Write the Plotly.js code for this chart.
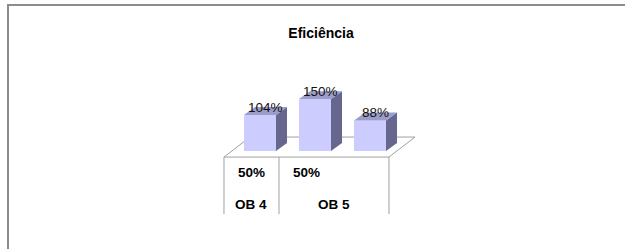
<!DOCTYPE html>
<html>
<head>
<meta charset="utf-8">
<script src="https://cdn.plot.ly/plotly-3.0.1.min.js"></script>
<style>
  html, body { margin: 0; padding: 0; background: #fff; overflow: hidden; }
  #chart { width: 625px; height: 249px; }
  #frame { position: absolute; left: 7px; top: 4px; width: 700px; height: 300px;
           border: 2px solid #8c8c8c; pointer-events: none; }
</style>
</head>
<body>
<div id="chart"></div>
<div id="frame"></div>
<script>
// ---- data ----
const chartTitle = "Eficiência";
const groupLabels = ["OB 4", "OB 5", "OB 5"];
const subLabels = ["50%", "50%", ""];
const values = [104, 150, 88];
const dataLabels = ["104%", "150%", "88%"];

// ---- geometry (axis units) ----
const xs = values.map((_, i) => i);
const barW = 0.582;       // front face width
const sideDx = 0.2, sideDy = 23.1;   // bar depth
const floorFront = -17.3, floorDx = 0.473, floorDy = 57.8;
const tableBottom = -182;
const cellLeft = -0.655;  // left edge of first category cell

// side faces
const sideX = [], sideY = [], topX = [], topY = [];
xs.forEach((x, i) => {
  const v = values[i], r = x + barW / 2, l = x - barW / 2;
  sideX.push(r, r + sideDx, r + sideDx, r, r, null);
  sideY.push(0, sideDy, v + sideDy, v, 0, null);
  topX.push(l, r, r + sideDx, l + sideDx, l, null);
  topY.push(v, v, v + sideDy, v + sideDy, v, null);
});

const traces = [
  { type: "bar", x: xs, y: values, width: barW,
    marker: { color: "#CCCCFF", line: { width: 0 } }, hoverinfo: "skip" },
  { type: "scatter", mode: "lines", x: sideX, y: sideY, fill: "toself",
    fillcolor: "#66668F", line: { width: 0, color: "#66668F" }, hoverinfo: "skip" },
  { type: "scatter", mode: "lines", x: topX, y: topY, fill: "toself",
    fillcolor: "#9C9CC8", line: { width: 0, color: "#9C9CC8" }, hoverinfo: "skip" }
];

const n = values.length;
const cellRight = cellLeft + n;
const lineCol = "#A0A0A0";
const shapes = [
  { type: "path", layer: "below", xref: "x", yref: "y",
    path: `M ${cellLeft} ${floorFront} L ${cellRight} ${floorFront} L ${cellRight + floorDx} ${floorFront + floorDy} L ${cellLeft + floorDx} ${floorFront + floorDy} Z`,
    fillcolor: "#ffffff", line: { color: lineCol, width: 1 } }
];
// table vertical lines at group boundaries
const boundaries = [0];
for (let i = 1; i < n; i++) if (groupLabels[i] !== groupLabels[i - 1]) boundaries.push(i);
boundaries.push(n);
boundaries.forEach(b => {
  shapes.push({ type: "line", xref: "x", yref: "y", x0: cellLeft + b, x1: cellLeft + b,
    y0: floorFront, y1: tableBottom, line: { color: lineCol, width: 1 } });
});

const annotations = [];
xs.forEach((x, i) => {
  annotations.push({ x: x + 0.1, y: values[i], xref: "x", yref: "y", text: dataLabels[i],
    showarrow: false, yanchor: "middle", yshift: 8,
    font: { family: "Liberation Sans, Arial, sans-serif", size: 13.5, color: "#111" } });
  if (subLabels[i]) annotations.push({ x: cellLeft + i + 0.5, y: -60.7, xref: "x", yref: "y",
    text: "<b>" + subLabels[i] + "</b>", showarrow: false,
    font: { family: "Liberation Sans, Arial, sans-serif", size: 13.5, color: "#000" } });
});
for (let k = 0; k < boundaries.length - 1; k++) {
  const a = boundaries[k], b = boundaries[k + 1];
  annotations.push({ x: cellLeft + (a + b) / 2, y: -153, xref: "x", yref: "y",
    text: "<b>" + groupLabels[a] + "</b>", showarrow: false,
    font: { family: "Liberation Sans, Arial, sans-serif", size: 13.5, color: "#000" } });
}

const layout = {
  width: 625, height: 249,
  margin: { l: 205, r: 200, t: 60, b: 19, pad: 0 },
  paper_bgcolor: "#ffffff", plot_bgcolor: "rgba(0,0,0,0)",
  showlegend: false,
  title: { text: "<b>" + chartTitle + "</b>", xref: "container", yref: "container",
    x: 321 / 625, y: 1 - 33 / 249, xanchor: "center", yanchor: "middle",
    font: { family: "Liberation Sans, Arial, sans-serif", size: 14, color: "#000" } },
  xaxis: { range: [-1, 3], showgrid: false, zeroline: false, showticklabels: false,
    showline: false, ticks: "", fixedrange: true },
  yaxis: { range: [-228, 263], showgrid: false, zeroline: false, showticklabels: false,
    showline: false, ticks: "", fixedrange: true },
  shapes: shapes, annotations: annotations
};

Plotly.newPlot("chart", traces, layout, { displayModeBar: false, staticPlot: true });
</script>
</body>
</html>
